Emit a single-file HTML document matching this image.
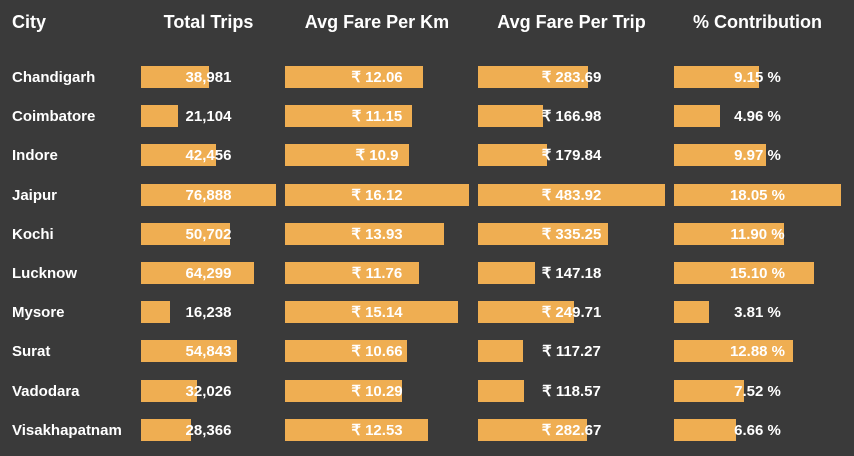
<!DOCTYPE html>
<html><head><meta charset="utf-8"><style>
html,body{margin:0;padding:0;background:#3a3a3a;}
#t{position:relative;width:854px;height:456px;overflow:hidden;font-family:"Liberation Sans",sans-serif;color:#fff;font-weight:bold;}
.h{position:absolute;top:10px;font-size:18px;line-height:24px;white-space:nowrap;}
.c{position:absolute;font-size:15px;line-height:20px;white-space:nowrap;}
.b{position:absolute;height:22px;background:#efae52;}
</style></head><body>
<div id="t">
<div class="h" style="left:12px">City</div>
</div>
<script>
const cities=["Chandigarh","Coimbatore","Indore","Jaipur","Kochi","Lucknow","Mysore","Surat","Vadodara","Visakhapatnam"];
const totalTrips=[38981,21104,42456,76888,50702,64299,16238,54843,32026,28366];
const farePerKm=[12.06,11.15,10.9,16.12,13.93,11.76,15.14,10.66,10.29,12.53];
const farePerTrip=[283.69,166.98,179.84,483.92,335.25,147.18,249.71,117.27,118.57,282.67];
const contribution=[9.15,4.96,9.97,18.05,11.90,15.10,3.81,12.88,7.52,6.66];
const headers=["Total Trips","Avg Fare Per Km","Avg Fare Per Trip","% Contribution"];
const cols=[
 {x:141,w:135,vals:totalTrips,fmt:v=>v.toLocaleString("en-US"),name:"total-trips"},
 {x:285,w:184,vals:farePerKm,fmt:v=>"₹ "+v,name:"fare-per-km"},
 {x:478,w:187,vals:farePerTrip,fmt:v=>"₹ "+v.toFixed(2),name:"fare-per-trip"},
 {x:674,w:167,vals:contribution,fmt:v=>v.toFixed(2)+" %",name:"contribution"}
];
const t=document.getElementById("t");
const rowY=i=>77+i*39.2;
cols.forEach((c,ci)=>{
 const h=document.createElement("div");
 h.className="h";h.textContent=headers[ci];
 h.style.left=c.x+"px";h.style.width=c.w+"px";h.style.textAlign="center";
 
 
 t.appendChild(h);
 const mx=Math.max(...c.vals);
 c.vals.forEach((v,i)=>{
  const b=document.createElement("div");
  b.className="b";b.style.left=c.x+"px";b.style.top=(rowY(i)-11)+"px";
  b.style.width=(v/mx*c.w)+"px";
  
  
  t.appendChild(b);
  const l=document.createElement("div");
  l.className="c";l.textContent=c.fmt(v);
  l.style.left=c.x+"px";l.style.width=c.w+"px";l.style.textAlign="center";l.style.top=(rowY(i)-9)+"px";
  
  
  t.appendChild(l);
 });
});
cities.forEach((n,i)=>{
 const l=document.createElement("div");
 l.className="c";l.textContent=n;l.style.left="12px";l.style.top=(rowY(i)-9)+"px";
 
 
 t.appendChild(l);
});
</script>
</body></html>
